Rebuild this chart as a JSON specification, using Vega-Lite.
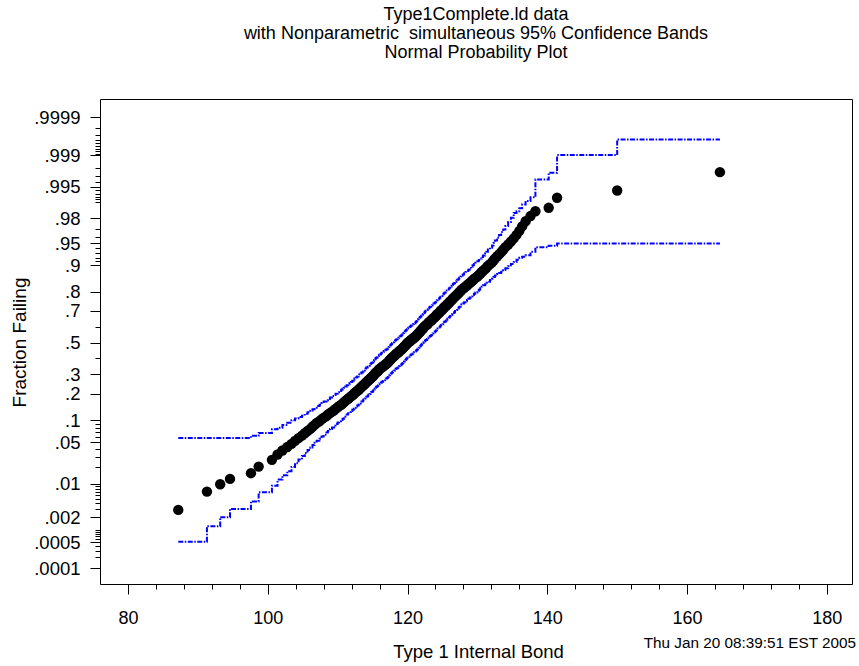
{
  "$schema": "https://vega.github.io/schema/vega-lite/v6.json",
  "width": 752,
  "height": 485,
  "autosize": {"type": "none"},
  "padding": {"left": 100, "top": 99, "right": 7, "bottom": 82},
  "background": "white",
  "title": {
    "text": ["Type1Complete.ld data", "with Nonparametric \u00a0simultaneous 95% Confidence Bands", "Normal Probability Plot"],
    "anchor": "middle",
    "font": "Liberation Sans",
    "fontSize": 18,
    "fontWeight": "normal",
    "lineHeight": 19,
    "color": "black",
    "offset": 37
  },
  "config": {
    "view": {"stroke": "black", "strokeWidth": 1},
    "font": "Liberation Sans",
    "axis": {
      "domain": false,
      "grid": false,
      "tickColor": "black",
      "tickWidth": 1,
      "labelColor": "black",
      "titleColor": "black",
      "labelFont": "Liberation Sans",
      "titleFont": "Liberation Sans",
      "titleFontWeight": "normal",
      "labelFontSize": 18,
      "labelFlush": false,
      "labelOverlap": false,
      "labelBound": false
    }
  },
  "resolve": {
    "scale": {"x": "shared", "y": "shared"},
    "axis": {"x": "independent", "y": "independent"}
  },
  "data": {
    "values": [
      {"bond": 87.2, "z": -2.760, "lo": -3.284, "hi": -1.575},
      {"bond": 91.3, "z": -2.458, "lo": -3.030, "hi": -1.575},
      {"bond": 93.2, "z": -2.336, "lo": -2.880, "hi": -1.575},
      {"bond": 94.6, "z": -2.248, "lo": -2.744, "hi": -1.575},
      {"bond": 97.6, "z": -2.154, "lo": -2.620, "hi": -1.537},
      {"bond": 98.7, "z": -2.045, "lo": -2.470, "hi": -1.490},
      {"bond": 100.6, "z": -1.934, "lo": -2.360, "hi": -1.430},
      {"bond": 101.4, "z": -1.845, "lo": -2.260, "hi": -1.405},
      {"bond": 102.1, "z": -1.780, "lo": -2.190, "hi": -1.360},
      {"bond": 102.8, "z": -1.722, "lo": -2.120, "hi": -1.322},
      {"bond": 103.4, "z": -1.670, "lo": -2.050, "hi": -1.280},
      {"bond": 103.9, "z": -1.621, "lo": -1.990, "hi": -1.251},
      {"bond": 104.4, "z": -1.576, "lo": -1.930, "hi": -1.226},
      {"bond": 104.9, "z": -1.534, "lo": -1.870, "hi": -1.204},
      {"bond": 105.3, "z": -1.495, "lo": -1.820, "hi": -1.175},
      {"bond": 105.7, "z": -1.457, "lo": -1.770, "hi": -1.147},
      {"bond": 106.1, "z": -1.422, "lo": -1.730, "hi": -1.122},
      {"bond": 106.4, "z": -1.388, "lo": -1.690, "hi": -1.098},
      {"bond": 106.7, "z": -1.356, "lo": -1.650, "hi": -1.076},
      {"bond": 107.0, "z": -1.326, "lo": -1.620, "hi": -1.046},
      {"bond": 107.4, "z": -1.296, "lo": -1.586, "hi": -1.026},
      {"bond": 107.7, "z": -1.267, "lo": -1.547, "hi": -0.997},
      {"bond": 108.0, "z": -1.240, "lo": -1.520, "hi": -0.970},
      {"bond": 108.4, "z": -1.213, "lo": -1.483, "hi": -0.953},
      {"bond": 108.6, "z": -1.188, "lo": -1.458, "hi": -0.928},
      {"bond": 108.9, "z": -1.163, "lo": -1.423, "hi": -0.903},
      {"bond": 109.2, "z": -1.138, "lo": -1.398, "hi": -0.878},
      {"bond": 109.5, "z": -1.115, "lo": -1.365, "hi": -0.865},
      {"bond": 109.7, "z": -1.092, "lo": -1.342, "hi": -0.842},
      {"bond": 110.0, "z": -1.069, "lo": -1.319, "hi": -0.819},
      {"bond": 110.2, "z": -1.047, "lo": -1.297, "hi": -0.797},
      {"bond": 110.5, "z": -1.026, "lo": -1.276, "hi": -0.776},
      {"bond": 110.7, "z": -1.005, "lo": -1.255, "hi": -0.755},
      {"bond": 110.9, "z": -0.984, "lo": -1.224, "hi": -0.744},
      {"bond": 111.1, "z": -0.964, "lo": -1.204, "hi": -0.724},
      {"bond": 111.3, "z": -0.944, "lo": -1.184, "hi": -0.704},
      {"bond": 111.5, "z": -0.925, "lo": -1.165, "hi": -0.685},
      {"bond": 111.7, "z": -0.906, "lo": -1.146, "hi": -0.666},
      {"bond": 111.9, "z": -0.887, "lo": -1.127, "hi": -0.647},
      {"bond": 112.1, "z": -0.869, "lo": -1.109, "hi": -0.629},
      {"bond": 112.3, "z": -0.851, "lo": -1.091, "hi": -0.611},
      {"bond": 112.4, "z": -0.833, "lo": -1.073, "hi": -0.593},
      {"bond": 112.6, "z": -0.815, "lo": -1.055, "hi": -0.575},
      {"bond": 112.8, "z": -0.798, "lo": -1.038, "hi": -0.558},
      {"bond": 113.0, "z": -0.781, "lo": -1.021, "hi": -0.541},
      {"bond": 113.1, "z": -0.764, "lo": -1.004, "hi": -0.524},
      {"bond": 113.3, "z": -0.747, "lo": -0.987, "hi": -0.507},
      {"bond": 113.4, "z": -0.731, "lo": -0.971, "hi": -0.491},
      {"bond": 113.6, "z": -0.714, "lo": -0.954, "hi": -0.474},
      {"bond": 113.7, "z": -0.698, "lo": -0.938, "hi": -0.458},
      {"bond": 113.9, "z": -0.682, "lo": -0.922, "hi": -0.442},
      {"bond": 114.0, "z": -0.667, "lo": -0.907, "hi": -0.427},
      {"bond": 114.1, "z": -0.651, "lo": -0.891, "hi": -0.411},
      {"bond": 114.3, "z": -0.636, "lo": -0.876, "hi": -0.396},
      {"bond": 114.4, "z": -0.620, "lo": -0.860, "hi": -0.380},
      {"bond": 114.6, "z": -0.605, "lo": -0.845, "hi": -0.365},
      {"bond": 114.7, "z": -0.590, "lo": -0.830, "hi": -0.350},
      {"bond": 114.8, "z": -0.576, "lo": -0.816, "hi": -0.336},
      {"bond": 115.0, "z": -0.561, "lo": -0.801, "hi": -0.321},
      {"bond": 115.1, "z": -0.546, "lo": -0.786, "hi": -0.306},
      {"bond": 115.2, "z": -0.532, "lo": -0.772, "hi": -0.292},
      {"bond": 115.3, "z": -0.518, "lo": -0.758, "hi": -0.278},
      {"bond": 115.4, "z": -0.503, "lo": -0.743, "hi": -0.263},
      {"bond": 115.5, "z": -0.489, "lo": -0.729, "hi": -0.249},
      {"bond": 115.7, "z": -0.475, "lo": -0.715, "hi": -0.235},
      {"bond": 115.8, "z": -0.461, "lo": -0.701, "hi": -0.221},
      {"bond": 115.9, "z": -0.447, "lo": -0.687, "hi": -0.207},
      {"bond": 116.0, "z": -0.433, "lo": -0.673, "hi": -0.193},
      {"bond": 116.2, "z": -0.420, "lo": -0.660, "hi": -0.180},
      {"bond": 116.3, "z": -0.406, "lo": -0.646, "hi": -0.166},
      {"bond": 116.5, "z": -0.393, "lo": -0.633, "hi": -0.153},
      {"bond": 116.6, "z": -0.379, "lo": -0.619, "hi": -0.139},
      {"bond": 116.8, "z": -0.366, "lo": -0.606, "hi": -0.126},
      {"bond": 116.9, "z": -0.352, "lo": -0.592, "hi": -0.112},
      {"bond": 117.1, "z": -0.339, "lo": -0.579, "hi": -0.099},
      {"bond": 117.2, "z": -0.326, "lo": -0.566, "hi": -0.086},
      {"bond": 117.3, "z": -0.312, "lo": -0.552, "hi": -0.072},
      {"bond": 117.4, "z": -0.299, "lo": -0.539, "hi": -0.059},
      {"bond": 117.5, "z": -0.286, "lo": -0.526, "hi": -0.046},
      {"bond": 117.6, "z": -0.273, "lo": -0.513, "hi": -0.033},
      {"bond": 117.7, "z": -0.260, "lo": -0.500, "hi": -0.020},
      {"bond": 117.8, "z": -0.247, "lo": -0.487, "hi": -0.007},
      {"bond": 117.9, "z": -0.234, "lo": -0.474, "hi": 0.006},
      {"bond": 118.1, "z": -0.221, "lo": -0.461, "hi": 0.019},
      {"bond": 118.2, "z": -0.208, "lo": -0.448, "hi": 0.032},
      {"bond": 118.3, "z": -0.196, "lo": -0.436, "hi": 0.044},
      {"bond": 118.4, "z": -0.183, "lo": -0.423, "hi": 0.057},
      {"bond": 118.6, "z": -0.170, "lo": -0.410, "hi": 0.070},
      {"bond": 118.7, "z": -0.157, "lo": -0.397, "hi": 0.083},
      {"bond": 118.8, "z": -0.145, "lo": -0.385, "hi": 0.095},
      {"bond": 118.9, "z": -0.132, "lo": -0.372, "hi": 0.108},
      {"bond": 119.1, "z": -0.119, "lo": -0.359, "hi": 0.121},
      {"bond": 119.2, "z": -0.107, "lo": -0.347, "hi": 0.133},
      {"bond": 119.3, "z": -0.094, "lo": -0.334, "hi": 0.146},
      {"bond": 119.4, "z": -0.082, "lo": -0.322, "hi": 0.158},
      {"bond": 119.5, "z": -0.069, "lo": -0.309, "hi": 0.171},
      {"bond": 119.6, "z": -0.056, "lo": -0.296, "hi": 0.184},
      {"bond": 119.7, "z": -0.044, "lo": -0.284, "hi": 0.196},
      {"bond": 119.8, "z": -0.031, "lo": -0.271, "hi": 0.209},
      {"bond": 119.9, "z": -0.019, "lo": -0.259, "hi": 0.221},
      {"bond": 120.0, "z": -0.006, "lo": -0.246, "hi": 0.234},
      {"bond": 120.1, "z": 0.006, "lo": -0.234, "hi": 0.246},
      {"bond": 120.3, "z": 0.019, "lo": -0.221, "hi": 0.259},
      {"bond": 120.4, "z": 0.031, "lo": -0.209, "hi": 0.271},
      {"bond": 120.5, "z": 0.044, "lo": -0.196, "hi": 0.284},
      {"bond": 120.7, "z": 0.056, "lo": -0.184, "hi": 0.296},
      {"bond": 120.8, "z": 0.069, "lo": -0.171, "hi": 0.309},
      {"bond": 120.9, "z": 0.082, "lo": -0.158, "hi": 0.322},
      {"bond": 121.1, "z": 0.094, "lo": -0.146, "hi": 0.334},
      {"bond": 121.2, "z": 0.107, "lo": -0.133, "hi": 0.347},
      {"bond": 121.3, "z": 0.119, "lo": -0.121, "hi": 0.359},
      {"bond": 121.4, "z": 0.132, "lo": -0.108, "hi": 0.372},
      {"bond": 121.5, "z": 0.145, "lo": -0.095, "hi": 0.385},
      {"bond": 121.6, "z": 0.157, "lo": -0.083, "hi": 0.397},
      {"bond": 121.7, "z": 0.170, "lo": -0.070, "hi": 0.410},
      {"bond": 121.8, "z": 0.183, "lo": -0.057, "hi": 0.423},
      {"bond": 121.9, "z": 0.196, "lo": -0.044, "hi": 0.436},
      {"bond": 122.0, "z": 0.208, "lo": -0.032, "hi": 0.448},
      {"bond": 122.1, "z": 0.221, "lo": -0.019, "hi": 0.461},
      {"bond": 122.2, "z": 0.234, "lo": -0.006, "hi": 0.474},
      {"bond": 122.3, "z": 0.247, "lo": 0.007, "hi": 0.487},
      {"bond": 122.4, "z": 0.260, "lo": 0.020, "hi": 0.500},
      {"bond": 122.5, "z": 0.273, "lo": 0.033, "hi": 0.513},
      {"bond": 122.6, "z": 0.286, "lo": 0.046, "hi": 0.526},
      {"bond": 122.8, "z": 0.299, "lo": 0.059, "hi": 0.539},
      {"bond": 122.9, "z": 0.312, "lo": 0.072, "hi": 0.552},
      {"bond": 123.0, "z": 0.326, "lo": 0.086, "hi": 0.566},
      {"bond": 123.1, "z": 0.339, "lo": 0.099, "hi": 0.579},
      {"bond": 123.2, "z": 0.352, "lo": 0.112, "hi": 0.592},
      {"bond": 123.4, "z": 0.366, "lo": 0.126, "hi": 0.606},
      {"bond": 123.5, "z": 0.379, "lo": 0.139, "hi": 0.619},
      {"bond": 123.6, "z": 0.393, "lo": 0.153, "hi": 0.633},
      {"bond": 123.7, "z": 0.406, "lo": 0.166, "hi": 0.646},
      {"bond": 123.9, "z": 0.420, "lo": 0.180, "hi": 0.660},
      {"bond": 124.0, "z": 0.433, "lo": 0.193, "hi": 0.673},
      {"bond": 124.1, "z": 0.447, "lo": 0.207, "hi": 0.687},
      {"bond": 124.2, "z": 0.461, "lo": 0.221, "hi": 0.701},
      {"bond": 124.3, "z": 0.475, "lo": 0.235, "hi": 0.715},
      {"bond": 124.5, "z": 0.489, "lo": 0.249, "hi": 0.729},
      {"bond": 124.6, "z": 0.503, "lo": 0.263, "hi": 0.743},
      {"bond": 124.7, "z": 0.518, "lo": 0.278, "hi": 0.758},
      {"bond": 124.8, "z": 0.532, "lo": 0.292, "hi": 0.772},
      {"bond": 125.0, "z": 0.546, "lo": 0.306, "hi": 0.786},
      {"bond": 125.1, "z": 0.561, "lo": 0.321, "hi": 0.801},
      {"bond": 125.2, "z": 0.576, "lo": 0.336, "hi": 0.816},
      {"bond": 125.3, "z": 0.590, "lo": 0.350, "hi": 0.830},
      {"bond": 125.5, "z": 0.605, "lo": 0.365, "hi": 0.845},
      {"bond": 125.6, "z": 0.620, "lo": 0.380, "hi": 0.860},
      {"bond": 125.7, "z": 0.636, "lo": 0.396, "hi": 0.876},
      {"bond": 125.9, "z": 0.651, "lo": 0.411, "hi": 0.891},
      {"bond": 126.0, "z": 0.667, "lo": 0.427, "hi": 0.907},
      {"bond": 126.1, "z": 0.682, "lo": 0.442, "hi": 0.922},
      {"bond": 126.3, "z": 0.698, "lo": 0.458, "hi": 0.938},
      {"bond": 126.4, "z": 0.714, "lo": 0.474, "hi": 0.954},
      {"bond": 126.5, "z": 0.731, "lo": 0.491, "hi": 0.971},
      {"bond": 126.7, "z": 0.747, "lo": 0.507, "hi": 0.987},
      {"bond": 126.8, "z": 0.764, "lo": 0.524, "hi": 1.004},
      {"bond": 127.0, "z": 0.781, "lo": 0.541, "hi": 1.021},
      {"bond": 127.1, "z": 0.798, "lo": 0.558, "hi": 1.038},
      {"bond": 127.3, "z": 0.815, "lo": 0.575, "hi": 1.055},
      {"bond": 127.4, "z": 0.833, "lo": 0.593, "hi": 1.073},
      {"bond": 127.6, "z": 0.851, "lo": 0.611, "hi": 1.091},
      {"bond": 127.7, "z": 0.869, "lo": 0.629, "hi": 1.109},
      {"bond": 127.9, "z": 0.887, "lo": 0.647, "hi": 1.127},
      {"bond": 128.1, "z": 0.906, "lo": 0.666, "hi": 1.146},
      {"bond": 128.3, "z": 0.925, "lo": 0.685, "hi": 1.165},
      {"bond": 128.5, "z": 0.944, "lo": 0.704, "hi": 1.184},
      {"bond": 128.7, "z": 0.964, "lo": 0.724, "hi": 1.204},
      {"bond": 128.9, "z": 0.984, "lo": 0.744, "hi": 1.224},
      {"bond": 129.1, "z": 1.005, "lo": 0.765, "hi": 1.255},
      {"bond": 129.3, "z": 1.026, "lo": 0.786, "hi": 1.276},
      {"bond": 129.5, "z": 1.047, "lo": 0.807, "hi": 1.297},
      {"bond": 129.7, "z": 1.069, "lo": 0.829, "hi": 1.319},
      {"bond": 130.0, "z": 1.092, "lo": 0.852, "hi": 1.342},
      {"bond": 130.2, "z": 1.115, "lo": 0.875, "hi": 1.365},
      {"bond": 130.4, "z": 1.138, "lo": 0.898, "hi": 1.388},
      {"bond": 130.6, "z": 1.163, "lo": 0.923, "hi": 1.413},
      {"bond": 130.8, "z": 1.188, "lo": 0.948, "hi": 1.438},
      {"bond": 131.1, "z": 1.213, "lo": 0.963, "hi": 1.473},
      {"bond": 131.3, "z": 1.240, "lo": 0.990, "hi": 1.500},
      {"bond": 131.5, "z": 1.267, "lo": 1.007, "hi": 1.537},
      {"bond": 131.8, "z": 1.296, "lo": 1.036, "hi": 1.566},
      {"bond": 132.1, "z": 1.326, "lo": 1.056, "hi": 1.606},
      {"bond": 132.3, "z": 1.356, "lo": 1.086, "hi": 1.646},
      {"bond": 132.5, "z": 1.388, "lo": 1.108, "hi": 1.688},
      {"bond": 132.8, "z": 1.422, "lo": 1.132, "hi": 1.732},
      {"bond": 133.1, "z": 1.457, "lo": 1.150, "hi": 1.777},
      {"bond": 133.4, "z": 1.495, "lo": 1.170, "hi": 1.825},
      {"bond": 133.7, "z": 1.534, "lo": 1.200, "hi": 1.868},
      {"bond": 134.0, "z": 1.576, "lo": 1.230, "hi": 1.926},
      {"bond": 134.4, "z": 1.621, "lo": 1.260, "hi": 1.991},
      {"bond": 134.8, "z": 1.670, "lo": 1.300, "hi": 2.060},
      {"bond": 135.2, "z": 1.722, "lo": 1.330, "hi": 2.140},
      {"bond": 135.6, "z": 1.780, "lo": 1.370, "hi": 2.170},
      {"bond": 136.0, "z": 1.845, "lo": 1.400, "hi": 2.220},
      {"bond": 136.4, "z": 1.919, "lo": 1.420, "hi": 2.280},
      {"bond": 136.9, "z": 2.005, "lo": 1.445, "hi": 2.340},
      {"bond": 137.6, "z": 2.090, "lo": 1.500, "hi": 2.400},
      {"bond": 138.3, "z": 2.170, "lo": 1.575, "hi": 2.694},
      {"bond": 140.2, "z": 2.226, "lo": 1.600, "hi": 2.805},
      {"bond": 141.4, "z": 2.392, "lo": 1.636, "hi": 3.096},
      {"bond": 150.0, "z": 2.512, "lo": 1.636, "hi": 3.355},
      {"bond": 164.7, "z": 2.815, "lo": 1.636, "hi": 3.355}
    ]
  },
  "layer": [
    {
      "mark": {"type": "circle", "color": "black", "opacity": 1, "size": 108, "strokeWidth": 0},
      "encoding": {
        "x": {
          "field": "bond", "type": "quantitative",
          "scale": {"domain": [76, 183.6], "nice": false, "zero": false},
          "axis": {
            "orient": "bottom",
            "values": [80, 100, 120, 140, 160, 180],
            "tickSize": 10,
            "labelPadding": 29,
            "labelBaseline": "alphabetic",
            "title": "Type 1 Internal Bond",
            "titleFontSize": 18.5,
            "titleX": 378,
            "titleY": 73.5,
            "titleAlign": "center",
            "titleBaseline": "alphabetic"
          }
        },
        "y": {
          "field": "z", "type": "quantitative",
          "scale": {"domain": [-3.983, 4.022], "nice": false, "zero": false},
          "axis": {
            "orient": "left",
            "values": [3.719, 3.0902, 2.5758, 2.0537, 1.6449, 1.2816, 0.8416, 0.5244, 0, -0.5244, -0.8416, -1.2816, -1.6449, -2.3263, -2.8782, -3.2905, -3.719],
            "labelExpr": "datum.value > 3.5 ? '.9999' : datum.value > 3 ? '.999' : datum.value > 2.5 ? '.995' : datum.value > 2 ? '.98' : datum.value > 1.5 ? '.95' : datum.value > 1 ? '.9' : datum.value > 0.7 ? '.8' : datum.value > 0.3 ? '.7' : datum.value > -0.3 ? '.5' : datum.value > -0.7 ? '.3' : datum.value > -1 ? '.2' : datum.value > -1.5 ? '.1' : datum.value > -2 ? '.05' : datum.value > -2.6 ? '.01' : datum.value > -3 ? '.002' : datum.value > -3.5 ? '.0005' : '.0001'",
            "tickSize": 10,
            "labelPadding": 10,
            "labelFontSize": 18.5,
            "labelAlign": "right",
            "labelBaseline": "middle",
            "title": "Fraction Failing",
            "titleFontSize": 19,
            "titleColor": "black",
            "titleAngle": -90,
            "titleX": -75,
            "titleY": 243,
            "titleAlign": "center",
            "titleBaseline": "alphabetic"
          }
        }
      }
    },
    {
      "mark": {"type": "line", "interpolate": "step-after", "color": "#0000ff", "strokeWidth": 2, "strokeDash": [5, 1.5, 1.5, 1.5]},
      "encoding": {
        "x": {
          "field": "bond", "type": "quantitative",
          "scale": {"domain": [76, 183.6], "nice": false, "zero": false},
          "axis": {
            "orient": "bottom",
            "values": [80, 84, 88, 92, 96, 100, 104, 108, 112, 116, 120, 124, 128, 132, 136, 140, 144, 148, 152, 156, 160, 164, 168, 172, 176, 180],
            "tickSize": 5,
            "labels": false,
            "title": "Thu Jan 20 08:39:51 EST 2005",
            "titleFontSize": 15.3,
            "titleX": 755.5,
            "titleY": 63.3,
            "titleAlign": "right",
            "titleBaseline": "alphabetic"
          }
        },
        "y": {
          "field": "hi", "type": "quantitative",
          "scale": {"domain": [-3.983, 4.022], "nice": false, "zero": false},
          "axis": {
            "orient": "left",
            "values": [-3.719, -3.54, -3.432, -3.353, -3.291, -3.239, -3.195, -3.156, -3.121, -3.09, -2.878, -2.748, -2.652, -2.576, -2.512, -2.457, -2.409, -2.366, -2.326, -2.054, -1.881, -1.751, -1.645, -1.555, -1.476, -1.405, -1.341, -1.2816, -0.8416, -0.5244, -0.2533, 0, 0.2533, 0.5244, 0.8416, 1.2816, 1.341, 1.405, 1.476, 1.555, 1.645, 1.751, 1.881, 2.054, 2.326, 2.366, 2.409, 2.457, 2.512, 2.576, 2.652, 2.748, 2.878, 3.09, 3.121, 3.156, 3.195, 3.239, 3.291, 3.353, 3.432, 3.54, 3.719],
            "tickSize": 5,
            "labels": false,
            "title": null
          }
        }
      }
    },
    {
      "mark": {"type": "line", "interpolate": "step-after", "color": "#0000ff", "strokeWidth": 2, "strokeDash": [5, 1.5, 1.5, 1.5]},
      "encoding": {
        "x": {
          "field": "bond", "type": "quantitative",
          "scale": {"domain": [76, 183.6], "nice": false, "zero": false},
          "axis": null
        },
        "y": {
          "field": "lo", "type": "quantitative",
          "scale": {"domain": [-3.983, 4.022], "nice": false, "zero": false},
          "axis": null
        }
      }
    }
  ]
}
